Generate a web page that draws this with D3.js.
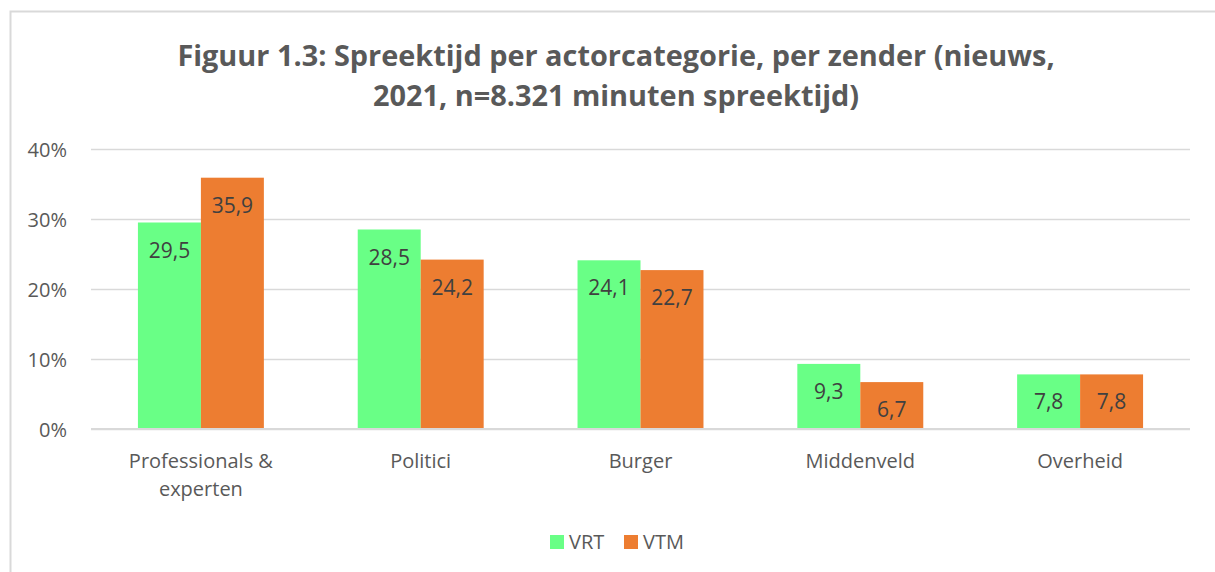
<!DOCTYPE html>
<html>
<head>
<meta charset="utf-8">
<script src="https://cdn.jsdelivr.net/npm/d3@7"></script>
<style>
  body { margin: 0; background: #fff; }
  svg { display: block; font-family: "Open Sans", "Liberation Sans", sans-serif; }
</style>
</head>
<body>
<div id="chart"></div>
<script>
// data
const categories = ['Professionals & experten', 'Politici', 'Burger', 'Middenveld', 'Overheid'];
const categoryLines = [['Professionals &', 'experten'], ['Politici'], ['Burger'], ['Middenveld'], ['Overheid']];
const seriesNames = ['VRT', 'VTM'];
const vrtValues = [29.5, 28.5, 24.1, 9.3, 7.8];
const vtmValues = [35.9, 24.2, 22.7, 6.7, 7.8];
const yTicks = [0, 10, 20, 30, 40];
const titleLines = ['Figuur 1.3: Spreektijd per actorcategorie, per zender (nieuws,', '2021, n=8.321 minuten spreektijd)'];

const colors = { VRT: '#69FF86', VTM: '#ED7D31' };
const W = 1215, H = 572;
const plot = { left: 91, right: 1190, top: 149, bottom: 429 };

const svg = d3.select('#chart').append('svg')
    .attr('width', W)
    .attr('height', H);

//chart area border (right and bottom edges fall outside the picture)
svg.append('rect')
    .attr('x', 10.5).attr('y', 11.5)
    .attr('width', W + 20).attr('height', H + 20)
    .attr('fill', '#fff')
    .attr('stroke', '#d9d9d9')
    .attr('stroke-width', 2);

//TITLE
const title = svg.append('g').attr('fill', '#595959').attr('font-weight', 700).attr('text-anchor', 'middle');
const t1 = title.append('text').attr('x', 616).attr('y', 66).text(titleLines[0]).attr('font-size', 24);
// fit the first line to the reference width, then reuse that size
const fs = 24 * 878 / t1.node().getComputedTextLength();
t1.attr('font-size', fs);
title.append('text').attr('x', 616).attr('y', 106).attr('font-size', fs).text(titleLines[1]);

//SCALES
const x = d3.scaleBand()
    .domain(categories)
    .range([plot.left, plot.right])
    .paddingInner(0.427)
    .paddingOuter(0.2135);
const xs = d3.scaleBand().domain(seriesNames).range([0, x.bandwidth()]);
const y = d3.scaleLinear().domain([0, 40]).range([plot.bottom, plot.top]);

//GRIDLINES + Y AXIS
const yAxis = svg.append('g')
    .attr('transform', `translate(${plot.left},0)`)
    .call(d3.axisLeft(y).tickValues(yTicks).tickSize(-(plot.right - plot.left)).tickFormat(d => d + '%'));
yAxis.select('.domain').remove();
yAxis.selectAll('.tick line').attr('stroke', '#d9d9d9').attr('stroke-width', 1.5);
yAxis.selectAll('.tick text')
    .attr('x', -24)
    .attr('dy', '0.35em')
    .attr('fill', '#595959')
    .attr('font-size', 20)
    .attr('font-family', '"Open Sans", sans-serif');

//BARS
const rows = categories.map((c, i) => ({ cat: c, values: [
    { key: 'VRT', value: vrtValues[i] },
    { key: 'VTM', value: vtmValues[i] }
] }));

const groups = svg.append('g').selectAll('g')
    .data(rows)
    .enter()
    .append('g')
    .attr('transform', d => `translate(${x(d.cat)},0)`);

groups.selectAll('rect')
    .data(d => d.values)
    .enter()
    .append('rect')
    .attr('x', d => xs(d.key))
    .attr('y', d => y(d.value))
    .attr('width', xs.bandwidth())
    .attr('height', d => y(0) - y(d.value))
    .attr('fill', d => colors[d.key]);

//DATA LABELS (inside end)
groups.selectAll('text')
    .data(d => d.values)
    .enter()
    .append('text')
    .attr('x', d => xs(d.key) + xs.bandwidth() / 2)
    .attr('y', d => y(d.value) + 35)
    .attr('text-anchor', 'middle')
    .attr('fill', '#404040')
    .attr('font-size', 21)
    .text(d => d3.format('.1f')(d.value).replace('.', ','));

//BASELINE
svg.append('line')
    .attr('x1', plot.left).attr('x2', plot.right)
    .attr('y1', y(0)).attr('y2', y(0))
    .attr('stroke', '#d9d9d9')
    .attr('stroke-width', 2);

//X LABELS
const xLab = svg.append('g').selectAll('text')
    .data(categories)
    .enter()
    .append('text')
    .attr('x', d => x(d) + x.bandwidth() / 2)
    .attr('y', 468)
    .attr('text-anchor', 'middle')
    .attr('fill', '#595959')
    .attr('font-size', 20);
xLab.each(function (d, i) {
    d3.select(this).selectAll('tspan')
        .data(categoryLines[i])
        .enter()
        .append('tspan')
        .attr('x', x(d) + x.bandwidth() / 2)
        .attr('dy', (l, j) => j === 0 ? 0 : 28)
        .text(l => l);
});

//LEGEND
const legend = svg.append('g');
const legendX = [550, 624];
seriesNames.forEach((s, i) => {
    legend.append('rect')
        .attr('x', legendX[i]).attr('y', 535)
        .attr('width', 14).attr('height', 14)
        .attr('fill', colors[s]);
    legend.append('text')
        .attr('x', legendX[i] + 19).attr('y', 549)
        .attr('fill', '#595959')
        .attr('font-size', 20)
        .text(s);
});
</script>
</body>
</html>
